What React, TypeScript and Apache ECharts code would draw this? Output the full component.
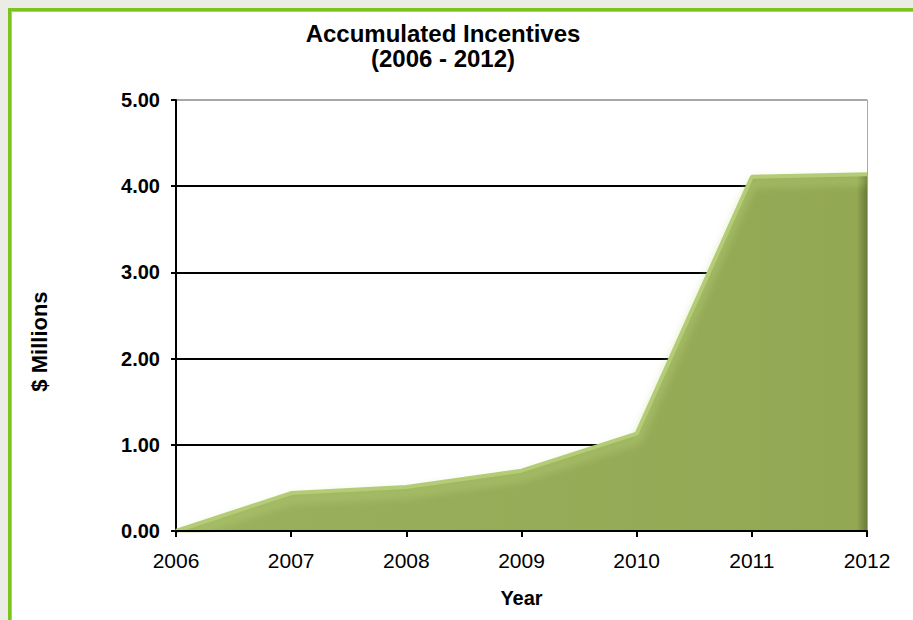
import React, { useEffect, useRef } from "react";
import * as echarts from "echarts";

const years = ["2006", "2007", "2008", "2009", "2010", "2011", "2012"];
const incentives = [0, 0.44, 0.51, 0.7, 1.13, 4.11, 4.14];
const titleLines = ["Accumulated Incentives", "(2006 - 2012)"];
const yAxisName = "$ Millions";
const xAxisName = "Year";

export default function App() {
  const ref = useRef<HTMLDivElement>(null);
  useEffect(() => {
    const chart = echarts.init(ref.current!, undefined, { renderer: "svg" });
    chart.setOption({
      animation: false,
      backgroundColor: "#ffffff",
      textStyle: { fontFamily: "Liberation Sans, Arial, sans-serif" },
      graphic: [
        { type: "rect", z: -10, shape: { x: 0, y: 0, width: 913, height: 620 }, style: { fill: "#ecece6" } },
        { type: "rect", z: -9, shape: { x: 8, y: 8, width: 920, height: 630 }, style: { fill: "#ffffff" } },
        { type: "line", z: -8, shape: { x1: 8, y1: 9.5, x2: 913, y2: 9.5 }, style: { stroke: "#7cc31c", lineWidth: 3 } },
        { type: "line", z: -8, shape: { x1: 9.5, y1: 8, x2: 9.5, y2: 620 }, style: { stroke: "#7cc31c", lineWidth: 3 } },
        { type: "line", z: -8, shape: { x1: 11, y1: 11.5, x2: 913, y2: 11.5 }, style: { stroke: "#a6d85e", lineWidth: 1 } },
        { type: "line", z: -8, shape: { x1: 11.5, y1: 11, x2: 11.5, y2: 620 }, style: { stroke: "#a6d85e", lineWidth: 1 } },
      ],
      title: {
        text: titleLines.join("\n"),
        left: 438,
        textAlign: "center",
        top: 16,
        textStyle: { fontSize: 24, fontWeight: "bold", color: "#000", lineHeight: 25, fontFamily: "Liberation Sans, Arial, sans-serif" },
      },
      grid: { left: 176, right: 46, top: 100, bottom: 89 },
      xAxis: {
        type: "category",
        data: years,
        boundaryGap: false,
        name: xAxisName,
        nameLocation: "middle",
        nameGap: 57,
        nameTextStyle: { fontSize: 20, fontWeight: "bold", color: "#000" },
        axisLine: { show: true, lineStyle: { color: "#000", width: 2 } },
        axisTick: { show: true, length: 6, lineStyle: { color: "#000", width: 2 } },
        axisLabel: { fontSize: 21, color: "#000", margin: 19 },
        splitLine: { show: false },
        z: 5,
      },
      yAxis: [
        {
          type: "value",
          min: 0,
          max: 5,
          interval: 1,
          name: yAxisName,
          nameLocation: "middle",
          nameGap: 126,
          nameRotate: 90,
          nameTextStyle: { fontSize: 22, fontWeight: "bold", color: "#000", padding: [0, 52, 0, 0] },
          axisLine: { show: true, lineStyle: { color: "#000", width: 2 } },
          axisTick: { show: true, length: 5, lineStyle: { color: "#000", width: 2 } },
          axisLabel: { fontSize: 20, fontWeight: "bold", color: "#000", margin: 16, formatter: (v: number) => v.toFixed(2) },
          splitLine: { show: true, lineStyle: { color: ["#000", "#000", "#000", "#000", "#000", "#a8a8a8"], width: 2 } },
        },
        {
          type: "value",
          min: 0,
          max: 5,
          interval: 1,
          position: "right",
          axisLine: { show: true, lineStyle: { color: "#a8a8a8", width: 1 } },
          axisTick: { show: false },
          axisLabel: { show: false },
          splitLine: { show: false },
        },
      ],
      series: [
        {
          type: "line",
          data: incentives,
          symbol: "none",
          z: 3,
          lineStyle: {
            color: "#b4cc76",
            width: 4,
            shadowColor: "rgba(185,212,125,0.95)",
            shadowBlur: 10,
            shadowOffsetY: 6,
          },
          areaStyle: {
            opacity: 1,
            color: new echarts.graphic.LinearGradient(0, 0, 1, 0, [
              { offset: 0, color: "#9bb05c" },
              { offset: 0.985, color: "#93a853" },
              { offset: 1, color: "#6b7c38" },
            ]),
          },
        },
      ],
    });
    return () => chart.dispose();
  }, []);
  return (
    <div
      ref={ref}
      style={{ position: "fixed", left: 0, top: 0, width: 913, height: 620 }}
    />
  );
}
